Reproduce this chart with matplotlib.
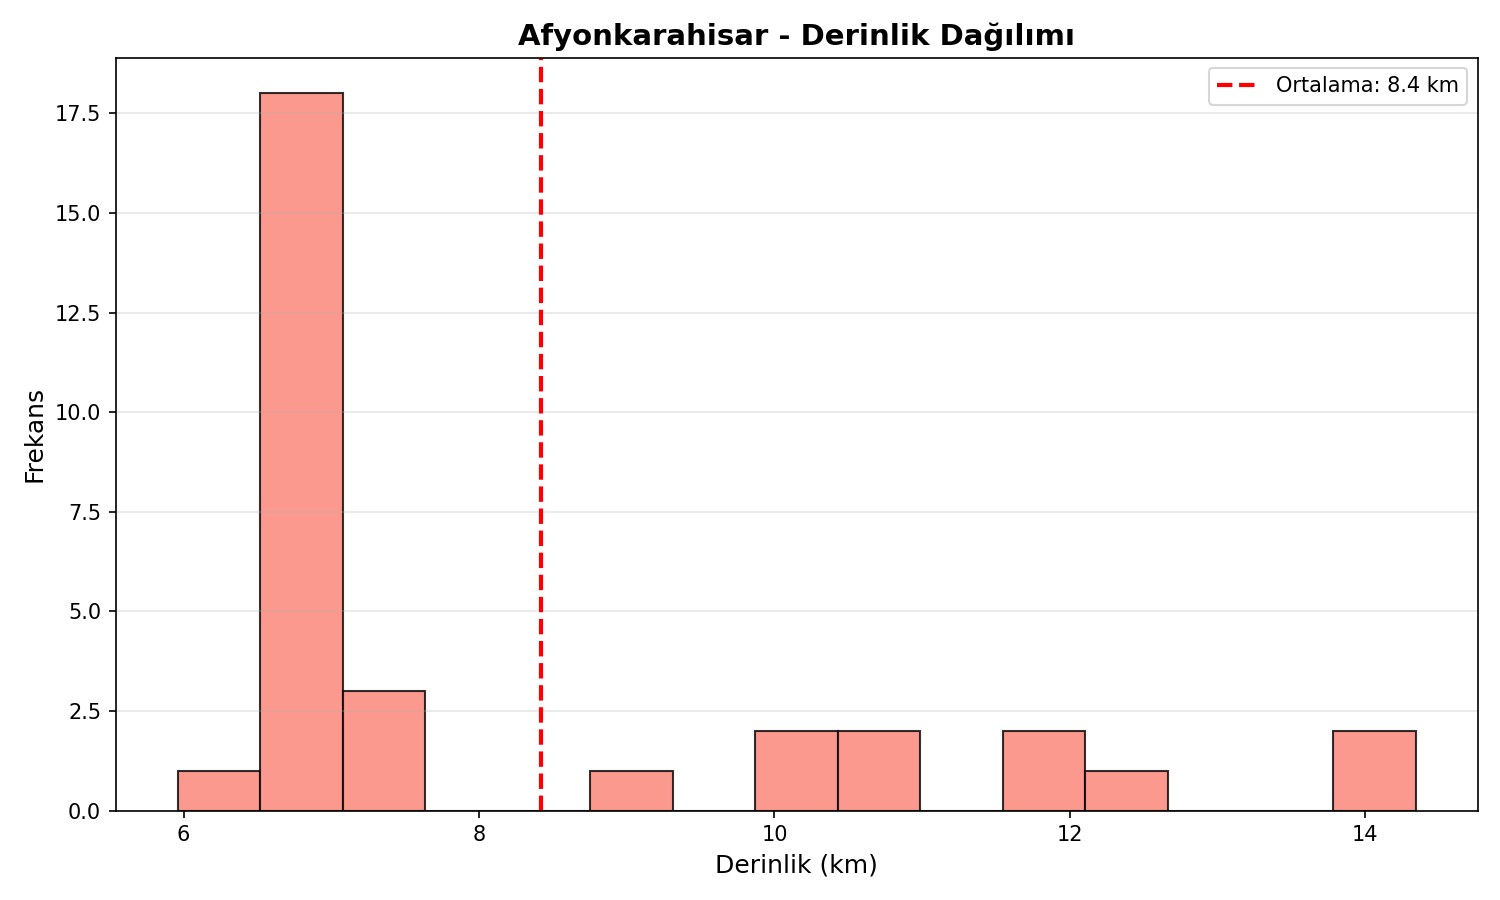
import matplotlib
matplotlib.use("Agg")
import matplotlib.pyplot as plt
import numpy as np

bin_min = 5.96
bin_max = 14.34
counts = [1, 18, 3, 0, 0, 1, 0, 2, 2, 0, 2, 1, 0, 0, 2]
mean_depth = 8.42

edges = np.linspace(bin_min, bin_max, len(counts) + 1)
fig, ax = plt.subplots(figsize=(10, 6), dpi=150)
ax.hist(edges[:-1], bins=edges, weights=counts, color='salmon', alpha=0.8, edgecolor='black')
ax.axvline(mean_depth, color='red', linestyle='--', linewidth=2, label=f'Ortalama: {mean_depth:.1f} km')
ax.set_title('Afyonkarahisar - Derinlik Dağılımı', fontsize=14, fontweight='bold')
ax.set_xlabel('Derinlik (km)', fontsize=12)
ax.set_ylabel('Frekans', fontsize=12)
ax.legend()
ax.grid(axis='y', alpha=0.3)
fig.tight_layout()
fig.savefig('out.png')
